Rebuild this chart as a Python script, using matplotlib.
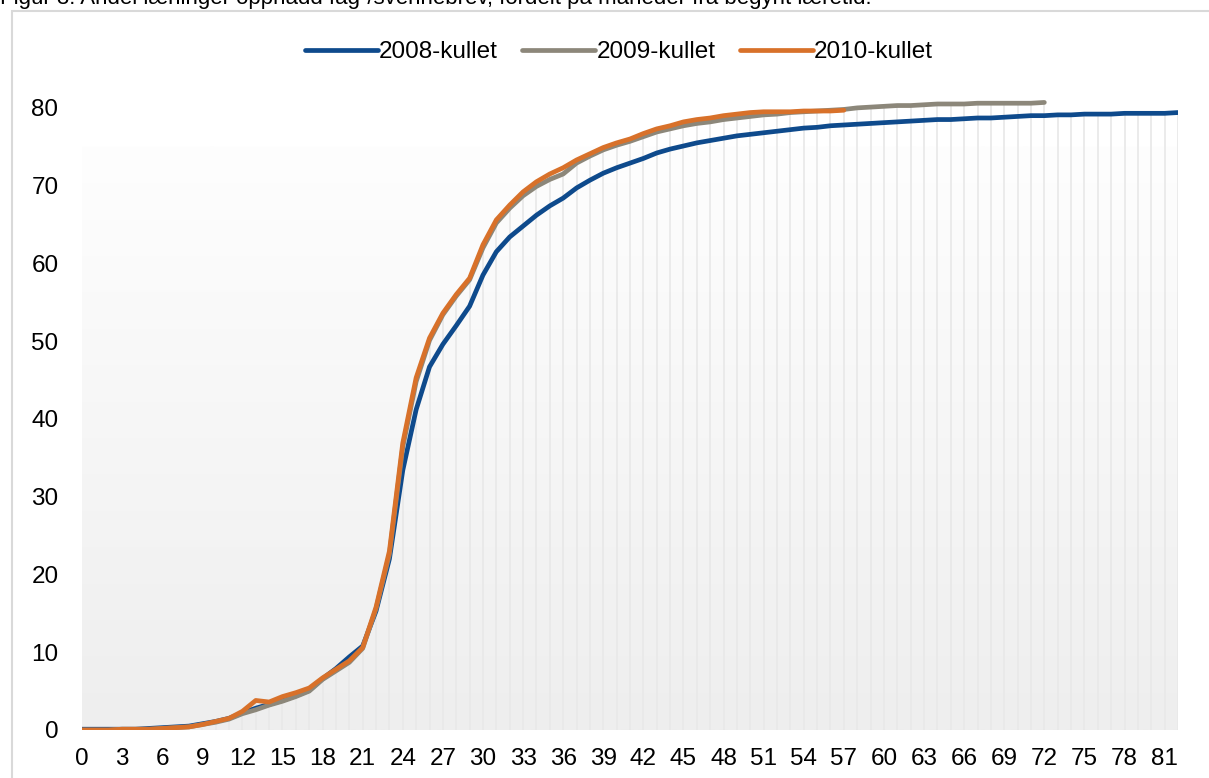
import numpy as np
import matplotlib.pyplot as plt
from matplotlib.colors import LinearSegmentedColormap
from matplotlib.patches import Rectangle

plt.rcParams['font.family'] = ['Liberation Sans', 'DejaVu Sans']

title = 'Figur 3. Andel lærlinger oppnådd fag-/svennebrev, fordelt på måneder fra begynt læretid.'
labels = ['2008-kullet', '2009-kullet', '2010-kullet']
colors = ['#0e4a8c', '#8c877a', '#d8712a']

# andel (%) per måned fra begynt læretid
k2008 = [0.1, 0.1, 0.1, 0.1, 0.1, 0.2, 0.3, 0.4, 0.5, 0.8, 1.1, 1.5, 2.2, 2.8, 3.3, 3.8, 4.4, 5.1, 6.6, 7.9, 9.4,
         10.8, 15.3, 22.0, 33.4, 41.2, 46.7, 49.6, 52.0, 54.5, 58.5, 61.5, 63.4, 64.8, 66.2, 67.4, 68.4, 69.7,
         70.7, 71.6, 72.3, 72.9, 73.5, 74.2, 74.7, 75.1, 75.5, 75.8, 76.1, 76.4, 76.6, 76.8, 77.0, 77.2, 77.4,
         77.5, 77.7, 77.8, 77.9, 78.0, 78.1, 78.2, 78.3, 78.4, 78.5, 78.5, 78.6, 78.7, 78.7, 78.8, 78.9, 79.0,
         79.0, 79.1, 79.1, 79.2, 79.2, 79.2, 79.3, 79.3, 79.3, 79.3, 79.4]
k2009 = [0.0, 0.0, 0.0, 0.1, 0.1, 0.1, 0.2, 0.3, 0.4, 0.7, 1.0, 1.4, 2.1, 2.6, 3.2, 3.7, 4.3, 5.0, 6.5, 7.6, 8.7,
         10.5, 15.6, 22.6, 36.4, 44.8, 50.1, 53.4, 55.8, 57.9, 62.0, 65.2, 67.1, 68.7, 69.9, 70.8, 71.5, 72.9,
         73.8, 74.6, 75.2, 75.7, 76.3, 76.9, 77.3, 77.7, 78.0, 78.2, 78.5, 78.7, 78.9, 79.1, 79.2, 79.4, 79.5,
         79.6, 79.7, 79.8, 80.0, 80.1, 80.2, 80.3, 80.3, 80.4, 80.5, 80.5, 80.5, 80.6, 80.6, 80.6, 80.6, 80.6,
         80.7]
k2010 = [0.0, 0.0, 0.0, 0.1, 0.1, 0.1, 0.2, 0.3, 0.4, 0.7, 1.1, 1.5, 2.4, 3.8, 3.6, 4.3, 4.8, 5.4, 6.7, 7.8, 8.9,
         10.6, 15.8, 23.0, 36.9, 45.3, 50.4, 53.6, 56.0, 58.1, 62.4, 65.6, 67.5, 69.2, 70.5, 71.5, 72.3, 73.3,
         74.1, 74.9, 75.5, 76.0, 76.7, 77.3, 77.7, 78.2, 78.5, 78.7, 79.0, 79.2, 79.4, 79.5, 79.5, 79.5, 79.6,
         79.6, 79.6, 79.7]

series = [k2008, k2009, k2010]
months = np.arange(len(k2008))

fig = plt.figure(figsize=(12.09, 7.78), dpi=100)
ax = fig.add_axes([82 / 1209, 48 / 778, (1178 - 82) / 1209, (730 - 69) / 778])
ax.set_xlim(0, months[-1])
ax.set_ylim(0, 85)

# gradient plot-area background
grad = np.linspace(0, 1, 256).reshape(-1, 1)
cmap = LinearSegmentedColormap.from_list('bg', ['#fefefe', '#eeeeee'])
ax.imshow(grad, cmap=cmap, aspect='auto', extent=[0, months[-1], 0, 75], origin='upper', zorder=0)

# drop lines
top = np.zeros(len(months))
for s in series:
    top[:len(s)] = np.maximum(top[:len(s)], s)
ax.vlines(months, 0, top, color='#e8e8e8', lw=1.2, zorder=1)

for s, lab, c in zip(series, labels, colors):
    ax.plot(np.arange(len(s)), s, color=c, lw=3.4, label=lab, solid_capstyle='round', zorder=3)

for sp in ax.spines.values():
    sp.set_visible(False)
ax.set_yticks(range(0, 81, 10))
ax.set_xticks(range(0, 82, 3))
ax.tick_params(length=0, labelsize=17.5, colors='black')
ax.tick_params(axis='x', pad=13)
ax.tick_params(axis='y', pad=17)

ax.legend(loc='center', bbox_to_anchor=(0.49, (730 - 52) / (730 - 69)), ncol=3,
          frameon=False, fontsize=17.5, handlelength=3.0, handletextpad=0.05, columnspacing=1.0)

# chart border and cut-off caption
fig.patches.append(Rectangle((12 / 1209, -0.1), 1.2, 1.1 - 11 / 778, transform=fig.transFigure,
                             fill=False, edgecolor='#d9d9d9', lw=1.5))
fig.text(0.0, 1 - 4 / 778, title, fontsize=16, va='baseline', ha='left')

fig.savefig('out.png', dpi=100)
